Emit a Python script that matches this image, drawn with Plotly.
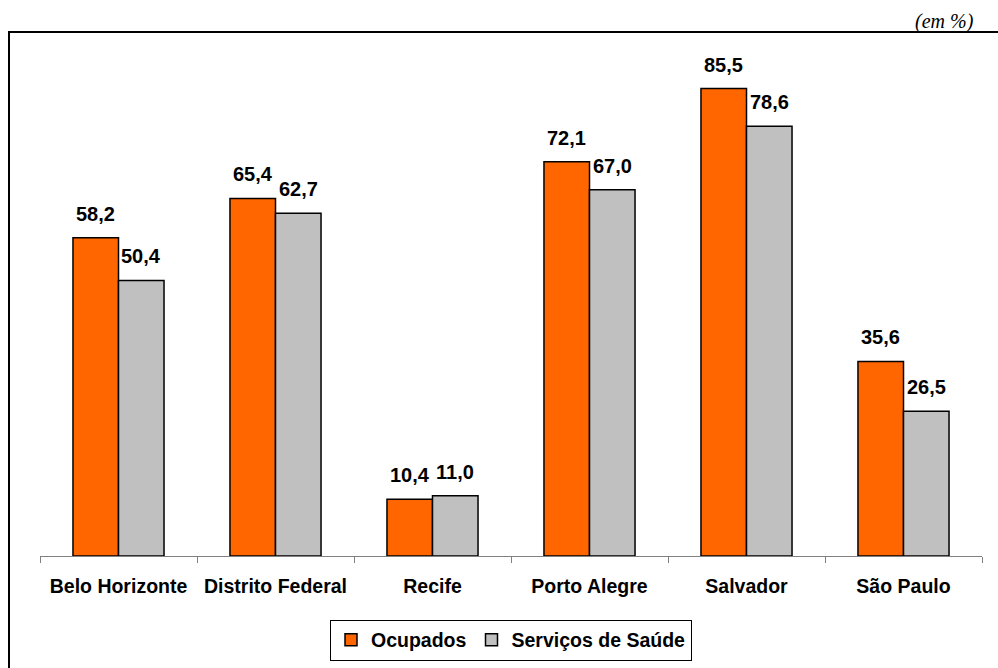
import plotly.graph_objects as go

cidades = ["Belo Horizonte", "Distrito Federal", "Recife", "Porto Alegre", "Salvador", "São Paulo"]
ocupados = [58.2, 65.4, 10.4, 72.1, 85.5, 35.6]
saude = [50.4, 62.7, 11.0, 67.0, 78.6, 26.5]


def rotulo(v):
    return f"{v:.1f}".replace(".", ",")


W, H = 998, 668
ML, MR, MT, MB = 40, 16, 64, 112
pw, ph = W - ML - MR, H - MT - MB
BARGAP = 0.42
meia = (1 - BARGAP) / 4  # centre offset of each bar inside its group

FONTE = "Liberation Sans, Arial"

fig = go.Figure()
fig.add_trace(go.Bar(
    x=cidades, y=ocupados, name="<b>Ocupados</b>",
    marker=dict(color="#FF6600", line=dict(color="#000000", width=1.5)),
))
fig.add_trace(go.Bar(
    x=cidades, y=saude, name="<b>Serviços de Saúde</b>",
    marker=dict(color="#C0C0C0", line=dict(color="#000000", width=1.5)),
))


def px_x(x):
    return (x - ML) / pw


def px_y(y):
    return (H - MB - y) / ph


anotacoes = []
for serie, desloc in ((ocupados, -meia), (saude, meia)):
    for i, v in enumerate(serie):
        anotacoes.append(dict(
            x=i + desloc, y=v, xref="x", yref="y",
            text=f"<b>{rotulo(v)}</b>", showarrow=False,
            xanchor="center", yanchor="bottom", yshift=11,
            font=dict(family=FONTE, size=20, color="#000000"),
        ))
anotacoes.append(dict(
    text="<i>(em %)</i>", xref="paper", yref="paper",
    x=px_x(976), y=px_y(22), xanchor="right", yanchor="middle",
    showarrow=False, font=dict(family="Liberation Serif, Times New Roman", size=20),
))

fig.update_layout(
    width=W, height=H,
    margin=dict(l=ML, r=MR, t=MT, b=MB, autoexpand=False),
    paper_bgcolor="white", plot_bgcolor="white",
    barmode="group", bargap=BARGAP, bargroupgap=0,
    font=dict(family=FONTE, color="#000000"),
    xaxis=dict(
        showline=True, linecolor="#808080", linewidth=1,
        ticks="outside", tickson="boundaries", ticklen=6, tickcolor="#808080",
        tickfont=dict(size=19.5, family=FONTE),
        tickprefix="<b>", ticksuffix="</b>", ticklabelstandoff=13,
        automargin=False,
    ),
    yaxis=dict(range=[0, 90], visible=False, showgrid=False, zeroline=False),
    showlegend=True,
    legend=dict(
        orientation="h", x=0.5, xanchor="center",
        yref="container", y=(H - 640) / H, yanchor="middle",
        bordercolor="#000000", borderwidth=1,
        font=dict(size=19.5, family=FONTE),
        traceorder="normal",
    ),
    shapes=[dict(
        type="rect", xref="paper", yref="paper",
        x0=px_x(9), x1=px_x(1020), y0=px_y(690), y1=px_y(32),
        line=dict(color="#000000", width=2), fillcolor="rgba(0,0,0,0)", layer="below",
    )],
    annotations=anotacoes,
)

fig.write_html("out.html")
